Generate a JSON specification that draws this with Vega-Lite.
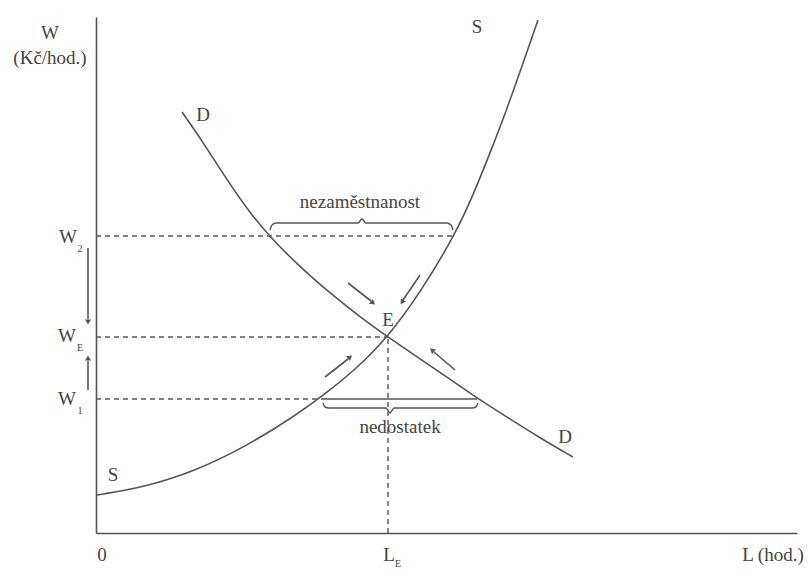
{
  "$schema": "https://vega.github.io/schema/vega-lite/v6.json",
  "width": 701,
  "height": 516,
  "autosize": {"type": "none"},
  "padding": {"left": 96, "top": 17, "right": 12, "bottom": 50},
  "background": "white",
  "config": {"view": {"stroke": null}},
  "encoding": {
    "x": {"field": "x", "type": "quantitative", "scale": {"domain": [0, 701], "nice": false, "zero": false},
      "axis": {"domain": true, "domainColor": "#555", "domainWidth": 1.6, "labels": false, "ticks": false, "grid": false, "title": null}},
    "y": {"field": "y", "type": "quantitative", "scale": {"domain": [0, 516], "nice": false, "zero": false},
      "axis": {"domain": true, "domainColor": "#555", "domainWidth": 1.6, "labels": false, "ticks": false, "grid": false, "title": null}}
  },
  "layer": [
    {
      "data": {"values": [
        {"id": "S", "x": 1, "y": 38}, {"id": "S", "x": 49, "y": 46}, {"id": "S", "x": 99, "y": 62}, {"id": "S", "x": 149, "y": 86},
        {"id": "S", "x": 199, "y": 117}, {"id": "S", "x": 229, "y": 139}, {"id": "S", "x": 259, "y": 163}, {"id": "S", "x": 292, "y": 196},
        {"id": "S", "x": 324, "y": 240}, {"id": "S", "x": 359, "y": 298}, {"id": "S", "x": 378, "y": 340}, {"id": "S", "x": 394, "y": 380},
        {"id": "S", "x": 411, "y": 424}, {"id": "S", "x": 426, "y": 467}, {"id": "S", "x": 442, "y": 513},
        {"id": "D", "x": 86, "y": 421}, {"id": "D", "x": 107, "y": 391}, {"id": "D", "x": 131, "y": 353}, {"id": "D", "x": 154, "y": 320},
        {"id": "D", "x": 174, "y": 296}, {"id": "D", "x": 204, "y": 266}, {"id": "D", "x": 234, "y": 240}, {"id": "D", "x": 264, "y": 216},
        {"id": "D", "x": 292, "y": 196}, {"id": "D", "x": 324, "y": 174}, {"id": "D", "x": 354, "y": 154}, {"id": "D", "x": 381, "y": 135},
        {"id": "D", "x": 414, "y": 114}, {"id": "D", "x": 444, "y": 95}, {"id": "D", "x": 477, "y": 76}
      ]},
      "mark": {"type": "line", "interpolate": "basis", "color": "#555", "strokeWidth": 1.6},
      "encoding": {"detail": {"field": "id", "type": "nominal"}}
    },
    {
      "data": {"values": [
        {"id": "B1", "x": 174, "y": 303}, {"id": "B1", "x": 176, "y": 308}, {"id": "B1", "x": 180, "y": 310}, {"id": "B1", "x": 262, "y": 310},
        {"id": "B1", "x": 266, "y": 314}, {"id": "B1", "x": 270, "y": 310}, {"id": "B1", "x": 351, "y": 310}, {"id": "B1", "x": 355, "y": 308},
        {"id": "B1", "x": 357, "y": 303},
        {"id": "B2", "x": 227, "y": 130}, {"id": "B2", "x": 229, "y": 126}, {"id": "B2", "x": 233, "y": 125}, {"id": "B2", "x": 290, "y": 125},
        {"id": "B2", "x": 294, "y": 120}, {"id": "B2", "x": 298, "y": 125}, {"id": "B2", "x": 376, "y": 125}, {"id": "B2", "x": 380, "y": 126},
        {"id": "B2", "x": 382, "y": 130}
      ]},
      "mark": {"type": "line", "interpolate": "monotone", "color": "#555", "strokeWidth": 1.4},
      "encoding": {"detail": {"field": "id", "type": "nominal"}}
    },
    {
      "data": {"values": [
        {"x": 0, "y": 297, "x2": 359, "y2": 297},
        {"x": 0, "y": 196, "x2": 292, "y2": 196},
        {"x": 0, "y": 134, "x2": 229, "y2": 134},
        {"x": 292, "y": 0, "x2": 292, "y2": 196}
      ]},
      "mark": {"type": "rule", "color": "#555", "strokeWidth": 1.4, "strokeDash": [5, 4]},
      "encoding": {"x2": {"field": "x2"}, "y2": {"field": "y2"}}
    },
    {
      "data": {"values": [
        {"x": 229, "y": 134, "x2": 381, "y2": 134},
        {"x": -8, "y": 285, "x2": -8, "y2": 214},
        {"x": -8, "y": 143, "x2": -8, "y2": 172},
        {"x": 252, "y": 250, "x2": 275, "y2": 232},
        {"x": 324, "y": 258, "x2": 307, "y2": 233},
        {"x": 229, "y": 156, "x2": 252, "y2": 174},
        {"x": 359, "y": 163, "x2": 338, "y2": 181}
      ]},
      "mark": {"type": "rule", "color": "#555", "strokeWidth": 1.6},
      "encoding": {"x2": {"field": "x2"}, "y2": {"field": "y2"}}
    },
    {
      "data": {"values": [
        {"x0": -8, "y0": 285, "x": -8, "y": 211},
        {"x0": -8, "y0": 143, "x": -8, "y": 175},
        {"x0": 252, "y0": 250, "x": 277, "y": 230},
        {"x0": 324, "y0": 258, "x": 306, "y": 231},
        {"x0": 229, "y0": 156, "x": 254, "y": 176},
        {"x0": 359, "y0": 163, "x": 336, "y": 183}
      ]},
      "transform": [{"calculate": "atan2(datum.x - datum.x0, datum.y - datum.y0) * 180 / PI", "as": "angle"}],
      "mark": {"type": "point", "shape": "triangle-up", "filled": true, "color": "#555", "size": 36, "opacity": 1},
      "encoding": {"angle": {"field": "angle", "type": "quantitative", "scale": null}}
    },
    {
      "data": {"values": [
        {"x": -46, "y": 500, "t": "W"},
        {"x": -46, "y": 475, "t": "(Kč/hod.)"},
        {"x": -28, "y": 296, "t": "W"},
        {"x": -29, "y": 197, "t": "W"},
        {"x": -29, "y": 134, "t": "W"},
        {"x": 6, "y": -22, "t": "0"},
        {"x": 293, "y": -22, "t": "L"},
        {"x": 677, "y": -22, "t": "L (hod.)"},
        {"x": 292, "y": 213, "t": "E"},
        {"x": 107, "y": 418, "t": "D"},
        {"x": 469, "y": 96, "t": "D"},
        {"x": 381, "y": 506, "t": "S"},
        {"x": 17, "y": 58, "t": "S"},
        {"x": 264, "y": 331, "t": "nezaměstnanost"},
        {"x": 304, "y": 106, "t": "nedostatek"}
      ]},
      "mark": {"type": "text", "font": "Liberation Serif", "fontSize": 19, "color": "#444", "align": "center", "baseline": "middle"},
      "encoding": {"text": {"field": "t"}}
    },
    {
      "data": {"values": [
        {"x": -16, "y": 284, "t": "2"},
        {"x": -16, "y": 185, "t": "E"},
        {"x": -16, "y": 122, "t": "1"},
        {"x": 302, "y": -31, "t": "E"}
      ]},
      "mark": {"type": "text", "font": "Liberation Serif", "fontSize": 10, "color": "#444", "align": "center", "baseline": "middle"},
      "encoding": {"text": {"field": "t"}}
    }
  ]
}
